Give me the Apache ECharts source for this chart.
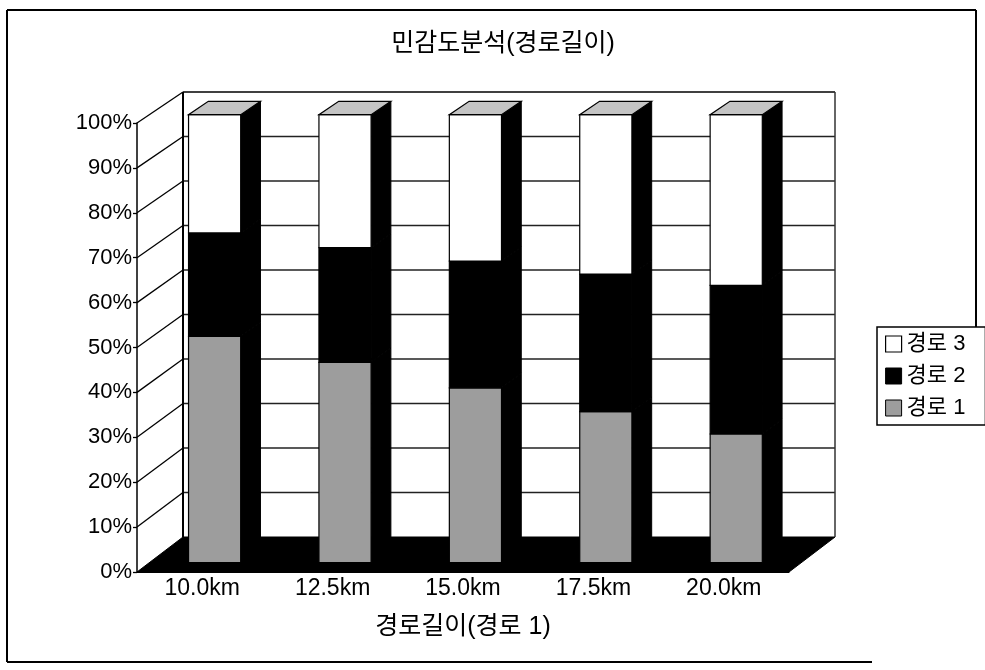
<!DOCTYPE html>
<html>
<head>
<meta charset="utf-8">
<script src="https://cdn.jsdelivr.net/npm/echarts@6/dist/echarts.min.js"></script>
<style>
  html, body { margin: 0; padding: 0; background: #fff; }
  #chart { width: 985px; height: 670px; }
</style>
</head>
<body>
<div id="chart"></div>
<script>
// Sensitivity analysis by route length: share of each route (100% stacked)
const categories = ['10.0km', '12.5km', '15.0km', '17.5km', '20.0km'];
const route1 = [50.5, 44.7, 39.0, 33.7, 28.7];
const route2 = [23.1, 25.6, 28.3, 30.7, 33.2];
const route3 = [26.4, 29.7, 32.7, 35.6, 38.1];
const percentTicks = [0, 10, 20, 30, 40, 50, 60, 70, 80, 90, 100];
const seriesNames = ['경로 1', '경로 2', '경로 3'];

// Oblique 3D look: how far the back wall sits from the front plane
const DEPTH_DX = 46;
const DEPTH_DY_AT_0 = -35;
const DEPTH_DY_AT_100 = -31;
const BAR_FRONT = 0.27;   // bar front face, as a fraction of the depth
const BAR_BACK = 0.70;    // bar back face
const BAR_RATIO = 0.40;   // bar width as a share of the category band

const FONT = "'Liberation Sans', 'Noto Sans CJK KR', sans-serif";
const GRAY = '#9d9d9d';
const TOP_GRAY = '#c4c4c4';

function project(api, x, v, d) {
  const y = api.coord([0, v])[1];
  return [x + DEPTH_DX * d, y + d * (DEPTH_DY_AT_0 + (DEPTH_DY_AT_100 - DEPTH_DY_AT_0) * v / 100)];
}

// Floor, left wall and back wall with their gridlines
function renderWalls(params, api) {
  const cs = params.coordSys;
  const xL = cs.x, xR = cs.x + cs.width;
  const P = (x, v, d) => project(api, x, v, d);
  const children = [];
  children.push({
    type: 'polygon',
    shape: { points: [P(xL, 0, 0), P(xR, 0, 0), P(xR, 0, 1), P(xL, 0, 1)] },
    style: { fill: '#000', stroke: '#000', lineWidth: 1 }
  });
  percentTicks.forEach(function (v) {
    if (v > 0) {
      // left wall line
      children.push({
        type: 'line',
        shape: { x1: P(xL, v, 0)[0], y1: P(xL, v, 0)[1], x2: P(xL, v, 1)[0], y2: P(xL, v, 1)[1] },
        style: { stroke: '#000', lineWidth: 1.3 }
      });
      // back wall line
      children.push({
        type: 'line',
        shape: { x1: P(xL, v, 1)[0], y1: P(xL, v, 1)[1], x2: P(xR, v, 1)[0], y2: P(xR, v, 1)[1] },
        style: { stroke: v === 100 ? '#000' : '#222', lineWidth: v === 100 ? 1.5 : 1.3 }
      });
    }
  });
  // back wall edges
  children.push({
    type: 'line',
    shape: { x1: P(xL, 0, 1)[0], y1: P(xL, 0, 1)[1], x2: P(xL, 100, 1)[0], y2: P(xL, 100, 1)[1] },
    style: { stroke: '#000', lineWidth: 2 }
  });
  children.push({
    type: 'line',
    shape: { x1: P(xR, 0, 1)[0], y1: P(xR, 0, 1)[1], x2: P(xR, 100, 1)[0], y2: P(xR, 100, 1)[1] },
    style: { stroke: '#333', lineWidth: 1.5 }
  });
  return { type: 'group', children: children };
}

function makeBarRenderer(fill, isTop) {
  return function (params, api) {
    const i = api.value(0), v0 = api.value(1), v1 = api.value(2);
    const cx = api.coord([i, 0])[0];
    const hw = api.size([1, 0])[0] * BAR_RATIO / 2;
    const xl = cx - hw, xr = cx + hw;
    const P = (x, v, d) => project(api, x, v, d);
    const children = [
      {
        type: 'polygon',
        shape: { points: [P(xr, v0, BAR_FRONT), P(xr, v0, BAR_BACK), P(xr, v1, BAR_BACK), P(xr, v1, BAR_FRONT)] },
        style: { fill: '#000', stroke: '#000', lineWidth: 1 }
      },
      {
        type: 'polygon',
        shape: { points: [P(xl, v0, BAR_FRONT), P(xr, v0, BAR_FRONT), P(xr, v1, BAR_FRONT), P(xl, v1, BAR_FRONT)] },
        style: { fill: fill, stroke: '#000', lineWidth: 1.2 }
      }
    ];
    if (isTop) {
      children.push({
        type: 'polygon',
        shape: { points: [P(xl, v1, BAR_FRONT), P(xr, v1, BAR_FRONT), P(xr, v1, BAR_BACK), P(xl, v1, BAR_BACK)] },
        style: { fill: TOP_GRAY, stroke: '#000', lineWidth: 1.2 }
      });
    }
    return { type: 'group', children: children };
  };
}

// Stack the three routes per category
const stacks = [route1, route2, route3];
const fills = [GRAY, '#000', '#fff'];
const barSeries = stacks.map(function (values, s) {
  const data = values.map(function (val, i) {
    let base = 0;
    for (let k = 0; k < s; k++) base += stacks[k][i];
    return [i, base, base + val];
  });
  return {
    type: 'custom',
    name: seriesNames[s],
    renderItem: makeBarRenderer(fills[s], s === stacks.length - 1),
    data: data,
    encode: { x: 0, y: [1, 2] },
    itemStyle: { color: fills[s], borderColor: '#000', borderWidth: 1 },
    z: 3 + s,
    silent: true
  };
});

const chart = echarts.init(document.getElementById('chart'), null, { renderer: 'canvas' });
chart.setOption({
  animation: false,
  backgroundColor: '#fff',
  title: {
    text: '민감도분석(경로길이)',
    left: 498,
    top: 27,
    textAlign: 'center',
    textStyle: { fontFamily: FONT, fontSize: 25, fontWeight: 'normal', color: '#000' }
  },
  legend: {
    orient: 'vertical',
    left: 877,
    top: 327,
    padding: [6, 20, 6, 8],
    itemGap: 10,
    itemWidth: 16,
    itemHeight: 16,
    icon: 'rect',
    borderColor: '#000',
    borderWidth: 1.5,
    textStyle: { fontFamily: FONT, fontSize: 22, color: '#000', lineHeight: 21 },
    data: [
      { name: '경로 3', itemStyle: { color: '#fff', borderColor: '#000', borderWidth: 1.2 } },
      { name: '경로 2', itemStyle: { color: '#000', borderColor: '#000', borderWidth: 1 } },
      { name: '경로 1', itemStyle: { color: GRAY, borderColor: '#000', borderWidth: 1 } }
    ],
    selectedMode: false
  },
  grid: { left: 137, right: 196, top: 123, bottom: 98 },
  xAxis: {
    type: 'category',
    data: categories,
    boundaryGap: true,
    axisLine: { show: true, lineStyle: { color: '#000', width: 1 } },
    axisTick: { show: false },
    axisLabel: { fontFamily: FONT, fontSize: 23, color: '#000', margin: 5 },
    name: '경로길이(경로 1)',
    nameLocation: 'middle',
    nameGap: 43,
    nameTextStyle: { fontFamily: FONT, fontSize: 25, color: '#000' }
  },
  yAxis: {
    type: 'value',
    min: 0,
    max: 100,
    interval: 10,
    axisLine: { show: true, lineStyle: { color: '#000', width: 1.5 } },
    axisTick: { show: true, length: 4, lineStyle: { color: '#000', width: 1.3 } },
    splitLine: { show: false },
    axisLabel: { fontFamily: FONT, fontSize: 22, color: '#000', margin: 5, formatter: '{value}%' }
  },
  graphic: [
    { type: 'line', shape: { x1: 7, y1: 10, x2: 976, y2: 10 }, style: { stroke: '#000', lineWidth: 2 } },
    { type: 'line', shape: { x1: 7, y1: 10, x2: 7, y2: 662 }, style: { stroke: '#000', lineWidth: 2 } },
    { type: 'line', shape: { x1: 976, y1: 10, x2: 976, y2: 327 }, style: { stroke: '#000', lineWidth: 2 } },
    { type: 'line', shape: { x1: 7, y1: 662, x2: 872, y2: 662 }, style: { stroke: '#000', lineWidth: 2 } }
  ],
  series: [
    {
      type: 'custom',
      name: 'walls',
      renderItem: renderWalls,
      data: [[0, 0]],
      encode: { x: 0, y: 1 },
      z: 1,
      silent: true
    }
  ].concat(barSeries)
});
</script>
</body>
</html>
